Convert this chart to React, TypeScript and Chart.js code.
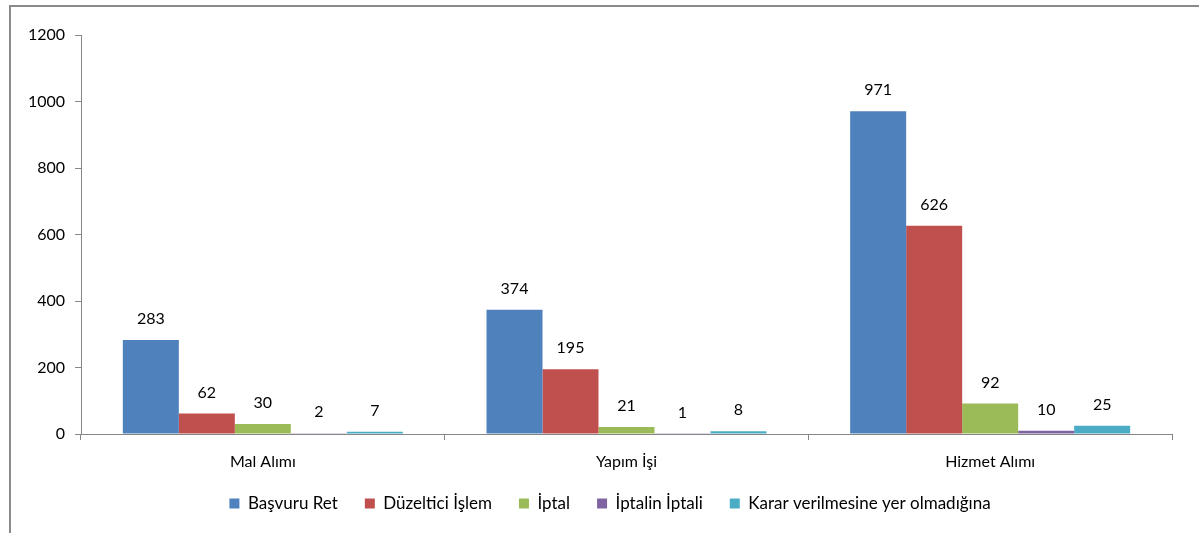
import React, { useEffect, useRef } from "react";
import { Chart, registerables } from "chart.js";

Chart.register(...registerables);

const categories = ["Mal Alımı", "Yapım İşi", "Hizmet Alımı"];
const seriesNames = ["Başvuru Ret", "Düzeltici İşlem", "İptal", "İptalin İptali", "Karar verilmesine yer olmadığına"];
const basvuruRet = [283, 374, 971];
const duzelticiIslem = [62, 195, 626];
const iptal = [30, 21, 92];
const iptalinIptali = [2, 1, 10];
const kararVerilmesine = [7, 8, 25];
const colors = ["#4F81BD", "#C0504D", "#9BBB59", "#8064A2", "#4BACC6"];
const yTicks = [0, 200, 400, 600, 800, 1000, 1200];

const FONT = "Lato, 'Open Sans', sans-serif";

const valueLabels = {
  id: "valueLabels",
  afterDatasetsDraw(chart: any) {
    const ctx = chart.ctx;
    ctx.save();
    ctx.font = `16px ${FONT}`;
    ctx.fillStyle = "#000";
    ctx.textAlign = "center";
    ctx.textBaseline = "middle";
    chart.data.datasets.forEach((ds: any, i: number) => {
      const meta = chart.getDatasetMeta(i);
      meta.data.forEach((bar: any, j: number) => {
        ctx.fillText(String(ds.data[j]), bar.x, bar.y - 21);
      });
    });
    ctx.restore();
  },
};

const legendShift = {
  id: "legendShift",
  afterLayout(chart: any) {
    const lg = chart.legend;
    if (!lg) return;
    lg.left += 24;
    lg.right += 24;
    lg.top -= 4;
    lg.bottom -= 4;
  },
};

export default function App() {
  const ref = useRef<HTMLCanvasElement>(null);
  useEffect(() => {
    const allData = [basvuruRet, duzelticiIslem, iptal, iptalinIptali, kararVerilmesine];
    const chart = new Chart(ref.current!, {
      type: "bar",
      data: {
        labels: categories,
        datasets: allData.map((d, i) => ({
          label: seriesNames[i],
          data: d,
          backgroundColor: colors[i],
          borderWidth: 0,
          categoryPercentage: 0.77,
          barPercentage: 1,
        })),
      },
      options: {
        animation: false,
        responsive: false,
        maintainAspectRatio: false,
        layout: { padding: { left: 0, right: 27, top: 35, bottom: 7 } },
        plugins: {
          legend: {
            position: "bottom",
            labels: {
              boxWidth: 10,
              boxHeight: 10,
              padding: 27,
              color: "#000",
              font: { family: FONT, size: 17 },
            },
          },
          tooltip: { enabled: false },
        },
        scales: {
          x: {
            grid: { drawOnChartArea: false, drawTicks: true, tickLength: 6, color: "#868686", offset: true },
            border: { color: "#868686", width: 1 },
            ticks: { color: "#000", font: { family: FONT, size: 16 }, padding: 12, autoSkip: false, maxRotation: 0 },
            afterFit: (s: any) => { s.height = 38; },
          },
          y: {
            min: 0,
            max: 1200,
            afterBuildTicks: (s: any) => { s.ticks = yTicks.map((v) => ({ value: v })); },
            grid: { drawOnChartArea: false, drawTicks: true, tickLength: 6, color: "#868686" },
            border: { color: "#868686", width: 1 },
            ticks: { color: "#000", font: { family: FONT, size: 16 }, padding: 10, callback: (v: any) => String(v) },
            afterFit: (s: any) => { s.width = 81; },
          },
        },
      },
      plugins: [valueLabels, legendShift],
    });
    return () => chart.destroy();
  }, []);
  return (
    <div style={{ position: "fixed", left: 0, top: 0, width: 1199, height: 533, background: "#fff", overflow: "hidden" }}>
      <div style={{ position: "absolute", left: 9, top: 5, width: 1300, height: 600, borderLeft: "2px solid #8a8a8a", borderTop: "2px solid #8a8a8a" }} />
      <canvas ref={ref} width={1199} height={533} style={{ position: "absolute", left: 0, top: 0 }} />
    </div>
  );
}
